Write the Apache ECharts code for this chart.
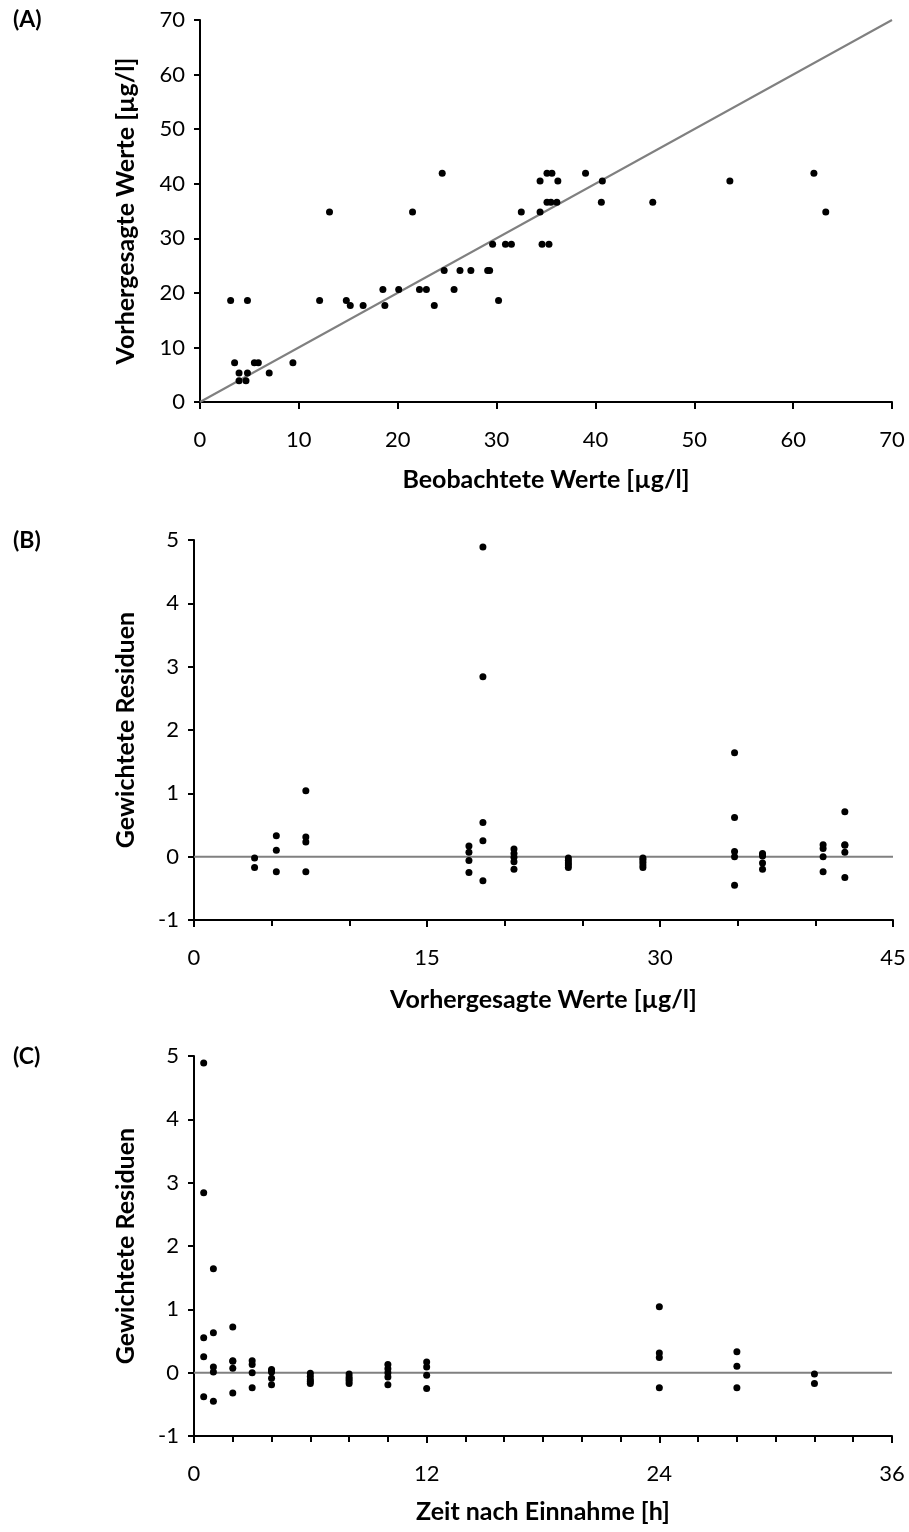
<!DOCTYPE html>
<html>
<head>
<meta charset="utf-8">
<script src="https://cdn.jsdelivr.net/npm/echarts@6/dist/echarts.min.js"></script>
<style>
    html, body { margin: 0; padding: 0; background: #fff; }
    #chart { width: 909px; height: 1532px; }
</style>
</head>
<body>
<div id="chart"></div>
<script>
// (A) beobachtet vs. vorhergesagt
var obsA = [3.95, 4.65,
    3.95, 4.8, 7.0,
    3.5, 5.5, 5.9, 9.4,
    15.2, 16.5, 18.7, 23.7,
    3.1, 4.8, 12.1, 14.8, 30.2,
    18.5, 20.1, 22.2, 22.9, 25.7,
    24.7, 26.3, 27.4, 29.1, 29.3,
    29.6, 30.9, 31.5, 34.6, 35.3,
    13.1, 21.5, 32.5, 34.4, 63.3,
    35.1, 35.5, 36.1, 40.6, 45.8,
    34.4, 36.2, 40.7, 53.6,
    24.5, 35.1, 35.6, 39.0, 62.1];
var predA = [3.9, 3.9,
    5.3, 5.3, 5.3,
    7.2, 7.2, 7.2, 7.2,
    17.7, 17.7, 17.7, 17.7,
    18.6, 18.6, 18.6, 18.6, 18.6,
    20.6, 20.6, 20.6, 20.6, 20.6,
    24.1, 24.1, 24.1, 24.1, 24.1,
    28.9, 28.9, 28.9, 28.9, 28.9,
    34.8, 34.8, 34.8, 34.8, 34.8,
    36.6, 36.6, 36.6, 36.6, 36.6,
    40.5, 40.5, 40.5, 40.5,
    41.9, 41.9, 41.9, 41.9, 41.9];

// (B) gewichtete Residuen vs. vorhergesagte Werte (x = predA)
var resB = [-0.02, -0.17,
    0.33, 0.10, -0.24,
    1.04, 0.31, 0.23, -0.24,
    0.17, 0.07, -0.06, -0.25,
    4.89, 2.84, 0.54, 0.25, -0.38,
    0.12, 0.05, -0.01, -0.08, -0.20,
    -0.02, -0.06, -0.10, -0.13, -0.17,
    -0.02, -0.05, -0.09, -0.13, -0.17,
    1.64, 0.62, 0.08, 0.00, -0.45,
    0.05, 0.03, 0.01, -0.10, -0.20,
    0.19, 0.13, 0.00, -0.24,
    0.71, 0.19, 0.18, 0.07, -0.33];

// (C) gewichtete Residuen vs. Zeit
var timeC = [0.5, 0.5, 0.5, 0.5, 0.5,
    1, 1, 1, 1, 1,
    2, 2, 2, 2, 2,
    3, 3, 3, 3,
    4, 4, 4, 4, 4,
    6, 6, 6, 6, 6,
    8, 8, 8, 8, 8,
    10, 10, 10, 10, 10,
    12, 12, 12, 12,
    24, 24, 24, 24,
    28, 28, 28,
    32, 32];
var resC = [4.89, 2.84, 0.55, 0.25, -0.38,
    1.64, 0.63, 0.09, 0.01, -0.45,
    0.72, 0.19, 0.18, 0.07, -0.32,
    0.19, 0.13, 0.00, -0.24,
    0.05, 0.03, 0.01, -0.09, -0.19,
    -0.01, -0.06, -0.11, -0.14, -0.17,
    -0.02, -0.07, -0.10, -0.13, -0.17,
    0.13, 0.06, 0.00, -0.07, -0.19,
    0.17, 0.09, -0.04, -0.25,
    1.04, 0.31, 0.24, -0.24,
    0.33, 0.10, -0.24,
    -0.02, -0.17];

var identityLine = [[0, 0], [70, 70]];
var zeroLineB = [[0, 0], [45, 0]];
var zeroLineC = [[0, 0], [36, 0]];

function pairs(xs, ys) {
    return xs.map(function(x, i) { return [x, ys[i]]; });
}

var font = 'Lato, "Open Sans", sans-serif';
var black = '#000';

function xAxis(idx, max, interval, minorSplit, name, gap) {
    return {
        type: 'value', gridIndex: idx, min: 0, max: max, interval: interval,
        name: name, nameLocation: 'middle', nameGap: gap,
        nameTextStyle: { fontFamily: font, fontWeight: 'bold', fontSize: 25, color: black },
        axisLine: { onZero: false, lineStyle: { color: black, width: 2 } },
        axisTick: { show: true, length: 7, lineStyle: { color: black, width: 2 } },
        minorTick: { show: minorSplit > 0, splitNumber: minorSplit || 5, length: 6, lineStyle: { color: black, width: 2 } },
        axisLabel: { fontFamily: font, fontSize: 22, color: black, margin: 27 },
        splitLine: { show: false }
    };
}

function yAxis(idx, min, max, interval, name, gap) {
    return {
        type: 'value', gridIndex: idx, min: min, max: max, interval: interval,
        name: name, nameLocation: 'middle', nameGap: gap,
        nameTextStyle: { fontFamily: font, fontWeight: 'bold', fontSize: 25, color: black },
        axisLine: { onZero: false, lineStyle: { color: black, width: 2 } },
        axisTick: { show: true, length: 6, lineStyle: { color: black, width: 2 } },
        axisLabel: { fontFamily: font, fontSize: 22, color: black, margin: 15 },
        splitLine: { show: false }
    };
}

function dots(idx, data) {
    return {
        type: 'scatter', xAxisIndex: idx, yAxisIndex: idx, data: data,
        symbol: 'circle', symbolSize: 7, itemStyle: { color: black, opacity: 1 }, z: 3,
        silent: true, animation: false
    };
}

function refLine(idx, data) {
    return {
        type: 'line', xAxisIndex: idx, yAxisIndex: idx, data: data,
        symbol: 'none', lineStyle: { color: '#808080', width: 2 }, z: 2,
        silent: true, animation: false
    };
}

function panelLabel(text, top) {
    return {
        text: text, left: 8, top: top,
        textStyle: { fontFamily: font, fontWeight: 'bold', fontSize: 23, color: black }
    };
}

var chart = echarts.init(document.getElementById('chart'));
chart.setOption({
    backgroundColor: '#fff',
    animation: false,
    title: [panelLabel('(A)', 3), panelLabel('(B)', 524), panelLabel('(C)', 1040)],
    grid: [
        { left: 200, top: 20, right: 17, height: 382 },
        { left: 194, top: 540, right: 16, height: 380 },
        { left: 194, top: 1056, right: 17, height: 380 }
    ],
    xAxis: [
        xAxis(0, 70, 10, 0, 'Beobachtete Werte [µg/l]', 65),
        xAxis(1, 45, 15, 3, 'Vorhergesagte Werte [µg/l]', 67),
        xAxis(2, 36, 12, 6, 'Zeit nach Einnahme [h]', 63)
    ],
    yAxis: [
        yAxis(0, 0, 70, 10, 'Vorhergesagte Werte [µg/l]', 62),
        yAxis(1, -1, 5, 1, 'Gewichtete Residuen', 56),
        yAxis(2, -1, 5, 1, 'Gewichtete Residuen', 56)
    ],
    series: [
        refLine(0, identityLine),
        dots(0, pairs(obsA, predA)),
        refLine(1, zeroLineB),
        dots(1, pairs(predA, resB)),
        refLine(2, zeroLineC),
        dots(2, pairs(timeC, resC))
    ]
});
</script>
</body>
</html>
